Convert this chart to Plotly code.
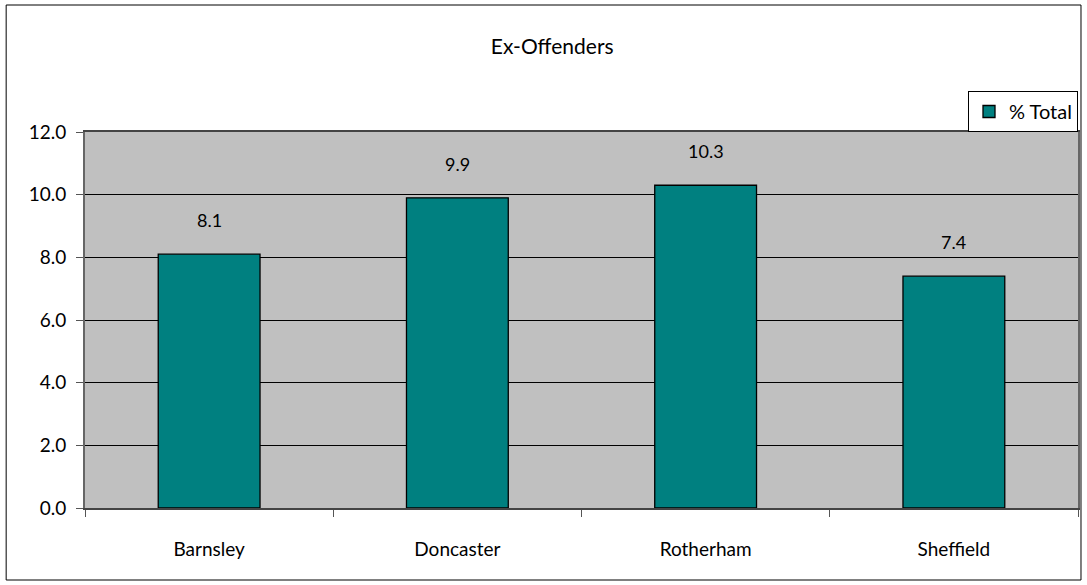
import plotly.graph_objects as go

categories = ["Barnsley", "Doncaster", "Rotherham", "Sheffield"]
values = [8.1, 9.9, 10.3, 7.4]
series_name = "% Total"
y_ticks = [0, 2, 4, 6, 8, 10, 12]
y_tick_labels = ["0.0", "2.0", "4.0", "6.0", "8.0", "10.0", "12.0"]

FONT = "Lato, 'Open Sans', sans-serif"

fig = go.Figure()
fig.add_trace(go.Bar(
    x=categories, y=values, name=series_name,
    marker=dict(color="#008080", line=dict(color="black", width=1.3)),
    showlegend=True,
))

for c, v in zip(categories, values):
    fig.add_annotation(x=c, y=v, text=f"{v:.1f}", showarrow=False,
                       yanchor="middle", yshift=34,
                       font=dict(family=FONT, size=18, color="black"))

fig.update_layout(
    width=1087, height=585,
    margin=dict(l=85, r=7, t=132, b=77),
    paper_bgcolor="white", plot_bgcolor="#C0C0C0",
    bargap=0.59,
    font=dict(family=FONT, size=19, color="black"),
    title=dict(text="Ex-Offenders", x=0.508, xanchor="center",
               y=1 - 47 / 585, yanchor="middle",
               font=dict(family=FONT, size=21, color="black")),
    legend=dict(x=1, xanchor="right", y=1, yanchor="bottom",
                bgcolor="white", bordercolor="black", borderwidth=1,
                font=dict(family=FONT, size=20, color="black"),
                itemwidth=30),
    xaxis=dict(showgrid=False, ticks="outside", ticklen=7, tickcolor="#555",
               tickson="boundaries", showline=True, linecolor="#444", linewidth=2,
               mirror=True, ticklabelstandoff=23,
               tickfont=dict(family=FONT, size=19, color="black")),
    yaxis=dict(range=[0, 12], tickvals=y_ticks, ticktext=y_tick_labels,
               showgrid=True, gridcolor="black", gridwidth=1,
               ticks="outside", ticklen=7, tickcolor="#555",
               showline=True, linecolor="#666", linewidth=2, mirror=True,
               zeroline=False, ticklabelstandoff=6,
               tickfont=dict(family=FONT, size=19, color="black")),
)

# outer chart border
fig.add_shape(type="rect", xref="paper", yref="paper",
              x0=(6 - 85) / 995, x1=(1083 - 85) / 995,
              y0=(508 - 580) / 376, y1=(508 - 5) / 376,
              line=dict(color="black", width=1), fillcolor="rgba(0,0,0,0)",
              layer="below")

fig.write_html("out.html", config={"displayModeBar": False},
               post_script="document.body.style.margin='0';document.body.style.overflow='hidden';")
